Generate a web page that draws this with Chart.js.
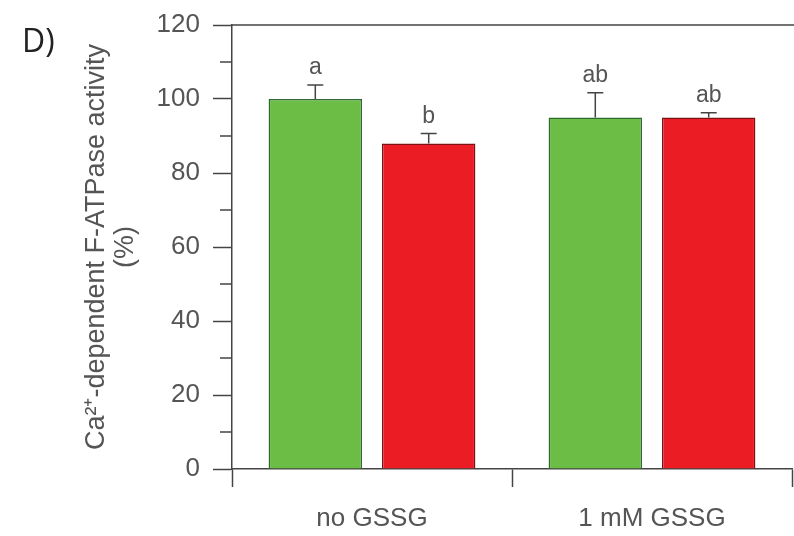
<!DOCTYPE html>
<html>
<head>
<meta charset="utf-8">
<script src="https://cdn.jsdelivr.net/npm/chart.js@4"></script>
<style>
    html, body { margin: 0; padding: 0; background: #fff; overflow: hidden; }
    #wrap { width: 794px; height: 536px; }
</style>
</head>
<body>
<div id="wrap"><canvas id="chart" width="794" height="536"></canvas></div>
<script>
// Data
const groups = ['no GSSG', '1 mM GSSG'];
const greenValues = [100, 95];
const greenErrors = [3.8, 6.7];
const greenLetters = ['a', 'ab'];
const redValues = [88, 95];
const redErrors = [2.7, 1.3];
const redLetters = ['b', 'ab'];
const yTicksMajor = [0, 20, 40, 60, 80, 100, 120];
const yTicksMinor = [10, 30, 50, 70, 90, 110];

const axisColor = '#444';
const textColor = '#555';
const fontFamily = '"Liberation Sans", Arial, sans-serif';

// Error bars, letters, minor ticks, frame top and panel tag
const extrasPlugin = {
    id: 'extras',
    afterDatasetsDraw(chart) {
        const ctx = chart.ctx;
        const yScale = chart.scales.y;
        const area = chart.chartArea;
        const sets = [
            { errs: greenErrors, letters: greenLetters },
            { errs: redErrors, letters: redLetters }
        ];

        ctx.save();
        ctx.strokeStyle = axisColor;
        ctx.lineWidth = 1.5;
        sets.forEach((s, di) => {
            const meta = chart.getDatasetMeta(di);
            const values = chart.data.datasets[di].data;
            meta.data.forEach((bar, i) => {
                const x = bar.x;
                const yTop = yScale.getPixelForValue(values[i] + s.errs[i]);
                const yBar = yScale.getPixelForValue(values[i]);
                ctx.beginPath();
                ctx.moveTo(x, yBar);
                ctx.lineTo(x, yTop);
                ctx.moveTo(x - 8, yTop);
                ctx.lineTo(x + 8, yTop);
                ctx.stroke();

                ctx.fillStyle = textColor;
                ctx.font = '23px ' + fontFamily;
                ctx.textAlign = 'center';
                ctx.textBaseline = 'middle';
                ctx.fillText(s.letters[i], x, yTop - 17);
            });
        });

        // minor ticks on y axis
        ctx.beginPath();
        yTicksMinor.forEach(v => {
            const y = yScale.getPixelForValue(v);
            ctx.moveTo(area.left - 12, y);
            ctx.lineTo(area.left, y);
        });
        // top frame line
        ctx.moveTo(area.left, area.top);
        ctx.lineTo(chart.width, area.top);
        ctx.stroke();

        // panel tag
        ctx.fillStyle = '#222';
        ctx.font = '32px "Open Sans", "Liberation Sans", sans-serif';
        ctx.textAlign = 'left';
        ctx.textBaseline = 'middle';
        ctx.fillText('D)', 22, 43);
        ctx.restore();
    }
};

new Chart(document.getElementById('chart').getContext('2d'), {
    type: 'bar',
    data: {
        labels: groups,
        datasets: [{
            label: 'green',
            data: greenValues,
            backgroundColor: '#6cbd45',
            borderColor: '#2e6b30',
            borderWidth: 1.5,
            barPercentage: 0.824,
            categoryPercentage: 0.81
        }, {
            label: 'red',
            data: redValues,
            backgroundColor: '#ec1c24',
            borderColor: '#7a1414',
            borderWidth: 1.5,
            barPercentage: 0.824,
            categoryPercentage: 0.81
        }]
    },
    options: {
        responsive: false,
        animation: false,
        devicePixelRatio: 1,
        layout: {
            padding: { left: 83, right: 2, top: 25, bottom: 0 }
        },
        plugins: {
            legend: { display: false },
            tooltip: { enabled: false }
        },
        scales: {
            x: {
                offset: true,
                afterFit(scale) { scale.height = 67; },
                border: { color: axisColor, width: 1.5 },
                grid: {
                    offset: true,
                    drawOnChartArea: false,
                    drawTicks: true,
                    tickLength: 18,
                    tickColor: axisColor,
                    tickWidth: 1.5
                },
                ticks: {
                    color: textColor,
                    padding: 16,
                    font: { size: 26, family: fontFamily }
                }
            },
            y: {
                min: 0,
                max: 120,
                afterFit(scale) {
                    scale.width = 232 - 83;
                    scale.paddingTop = 0;
                    scale.paddingBottom = 0;
                },
                afterBuildTicks(scale) {
                    scale.ticks = yTicksMajor.map(v => ({ value: v }));
                },
                border: { color: axisColor, width: 1.5 },
                grid: {
                    drawOnChartArea: false,
                    drawTicks: true,
                    tickLength: 19,
                    tickColor: axisColor,
                    tickWidth: 1.5
                },
                ticks: {
                    color: textColor,
                    padding: 13,
                    font: { size: 26, family: fontFamily }
                },
                title: {
                    display: true,
                    text: ['Ca\u00B2\u207A-dependent F-ATPase activity', '(%)'],
                    color: textColor,
                    padding: { top: 0, bottom: 0 },
                    font: { size: 27, lineHeight: 1.04, family: fontFamily }
                }
            }
        }
    },
    plugins: [extrasPlugin]
});
</script>
</body>
</html>
